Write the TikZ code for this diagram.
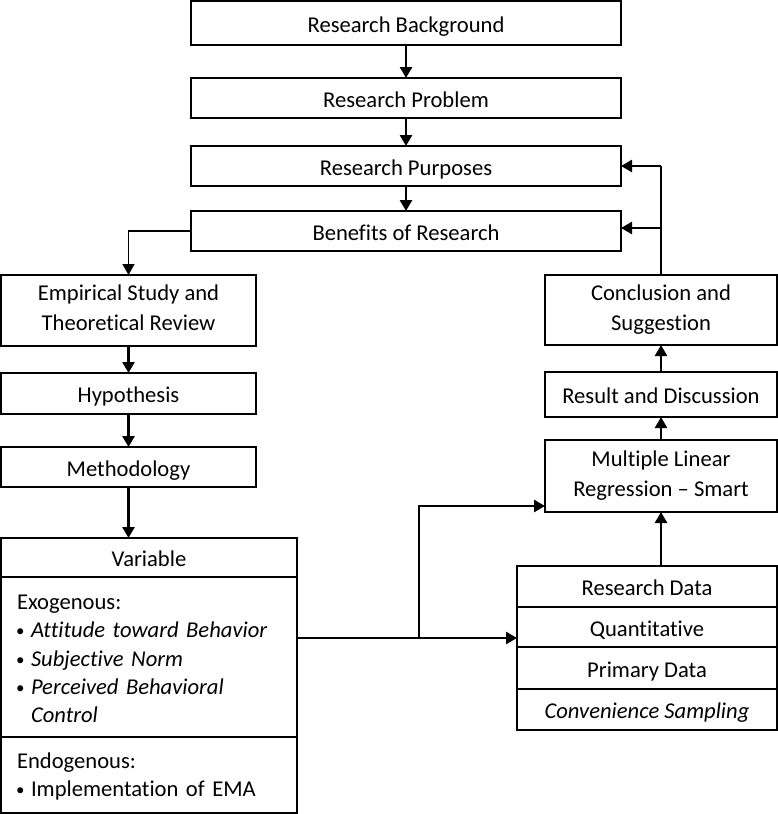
\documentclass[tikz,border=0pt]{standalone}
\usepackage{fontspec}
\usepackage{graphicx}
\setmainfont{Carlito}[Ligatures={TeX,NoCommon}]
\usetikzlibrary{arrows.meta}
\newcommand\bul{\makebox[14pt][l]{\hspace{-1pt}\raisebox{1pt}{\scalebox{0.75}{\textbullet}}}}
\begin{document}
\begin{tikzpicture}[x=1pt,y=-1pt,
  box/.style={draw, line width=2pt, align=center, inner sep=0pt, outer sep=0pt,
    font=\fontsize{22.6}{30}\selectfont,
    execute at begin node={\rule{0pt}{23pt}},
    execute at end node={\rule[-5pt]{0pt}{5pt}}},
  listbox/.style={box, anchor=north west, minimum width=296, text width=264,
    inner xsep=16pt, align=left, font=\fontsize{22.6}{28.3}\selectfont},
  tip/.style={-{Triangle[length=11pt,width=12pt]}},
  arr/.style={line width=2.6pt, tip},
  thinline/.style={line width=1.5pt}]
\useasboundingbox (0,0) rectangle (778,814);
% top chain
\node[box, minimum width=430, minimum height=44] (bg) at (406,23) {Research Background};
\node[box, minimum width=430, minimum height=40] (prob) at (406,98) {Research Problem};
\node[box, minimum width=430, minimum height=40] (purp) at (406,166) {Research Purposes};
\node[box, minimum width=430, minimum height=40] (ben) at (406,231) {Benefits of Research};
% left column
\node[box, minimum width=255, minimum height=71] (emp) at (128.5,310.5) {Empirical Study and\\Theoretical Review};
\node[box, minimum width=255, minimum height=41] (hyp) at (128.5,393.5) {Hypothesis};
\node[box, minimum width=255, minimum height=40] (meth) at (128.5,467) {Methodology};
\node[box, minimum width=296, minimum height=39] (varh) at (149,557.5) {Variable};
\node[listbox, minimum height=160,
  execute at begin node={\rule{0pt}{18pt}},
  execute at end node={\rule[-5pt]{0pt}{5pt}}] (exo) at (varh.south west)
  {Exogenous:\\
   \bul\textit{Attitude toward Behavior}\\
   \bul\textit{Subjective Norm}\\
   \bul\textit{Perceived Behavioral}\\
   \hspace*{14pt}\textit{Control}};
\node[listbox, minimum height=76,
  execute at begin node={\rule{0pt}{16pt}},
  execute at end node={\rule[-8pt]{0pt}{8pt}}] (endo) at (exo.south west)
  {Endogenous:\\
   \bul Implementation of EMA};
% right column
\node[box, minimum width=232, minimum height=70] (concl) at (661,310) {Conclusion and\\Suggestion};
\node[box, minimum width=232, minimum height=45] (res) at (661,394.5) {Result and Discussion};
\node[box, minimum width=232, minimum height=72] (mlr) at (661,476) {Multiple Linear\\Regression -- Smart};
\node[box, minimum width=260, minimum height=41] (rd) at (647,586.5) {Research Data};
\node[box, minimum width=260, minimum height=40] (quant) at (647,627) {Quantitative};
\node[box, minimum width=260, minimum height=42] (prim) at (647,668) {Primary Data};
\node[box, minimum width=260, minimum height=41] (conv) at (647,709.5) {\textit{Convenience Sampling}};
% connectors
\draw[arr] (bg.south) -- (prob.north);
\draw[arr] (prob.south) -- (purp.north);
\draw[arr] (purp.south) -- (ben.north);
\draw[thinline, tip] (ben.west) -| (emp.north);
\draw[arr] (emp.south) -- (hyp.north);
\draw[arr] (hyp.south) -- (meth.north);
\draw[arr] (meth.south) -- (meth.south |- varh.north);
\coordinate (benin) at ([yshift=3pt]ben.east);
\draw[thinline] (concl.north) -- (concl.north |- purp.east);
\draw[arr] (concl.north |- purp.east) -- (purp.east);
\draw[arr] (concl.north |- benin) -- (benin);
\draw[arr] (res.north) -- (concl.south);
\draw[arr] (mlr.north) -- (res.south);
\draw[arr] (mlr.south |- rd.north) -- (mlr.south);
\coordinate (vout) at (297,638);
\coordinate (thick) at (390,638);
\coordinate (split) at (419,638);
\coordinate (mlrin) at (545,506);
\draw[thinline] (vout) -- (thick);
\draw[arr] (thick) -- (thick -| rd.west);
\draw[arr] (split) |- (mlrin);
\end{tikzpicture}
\end{document}
